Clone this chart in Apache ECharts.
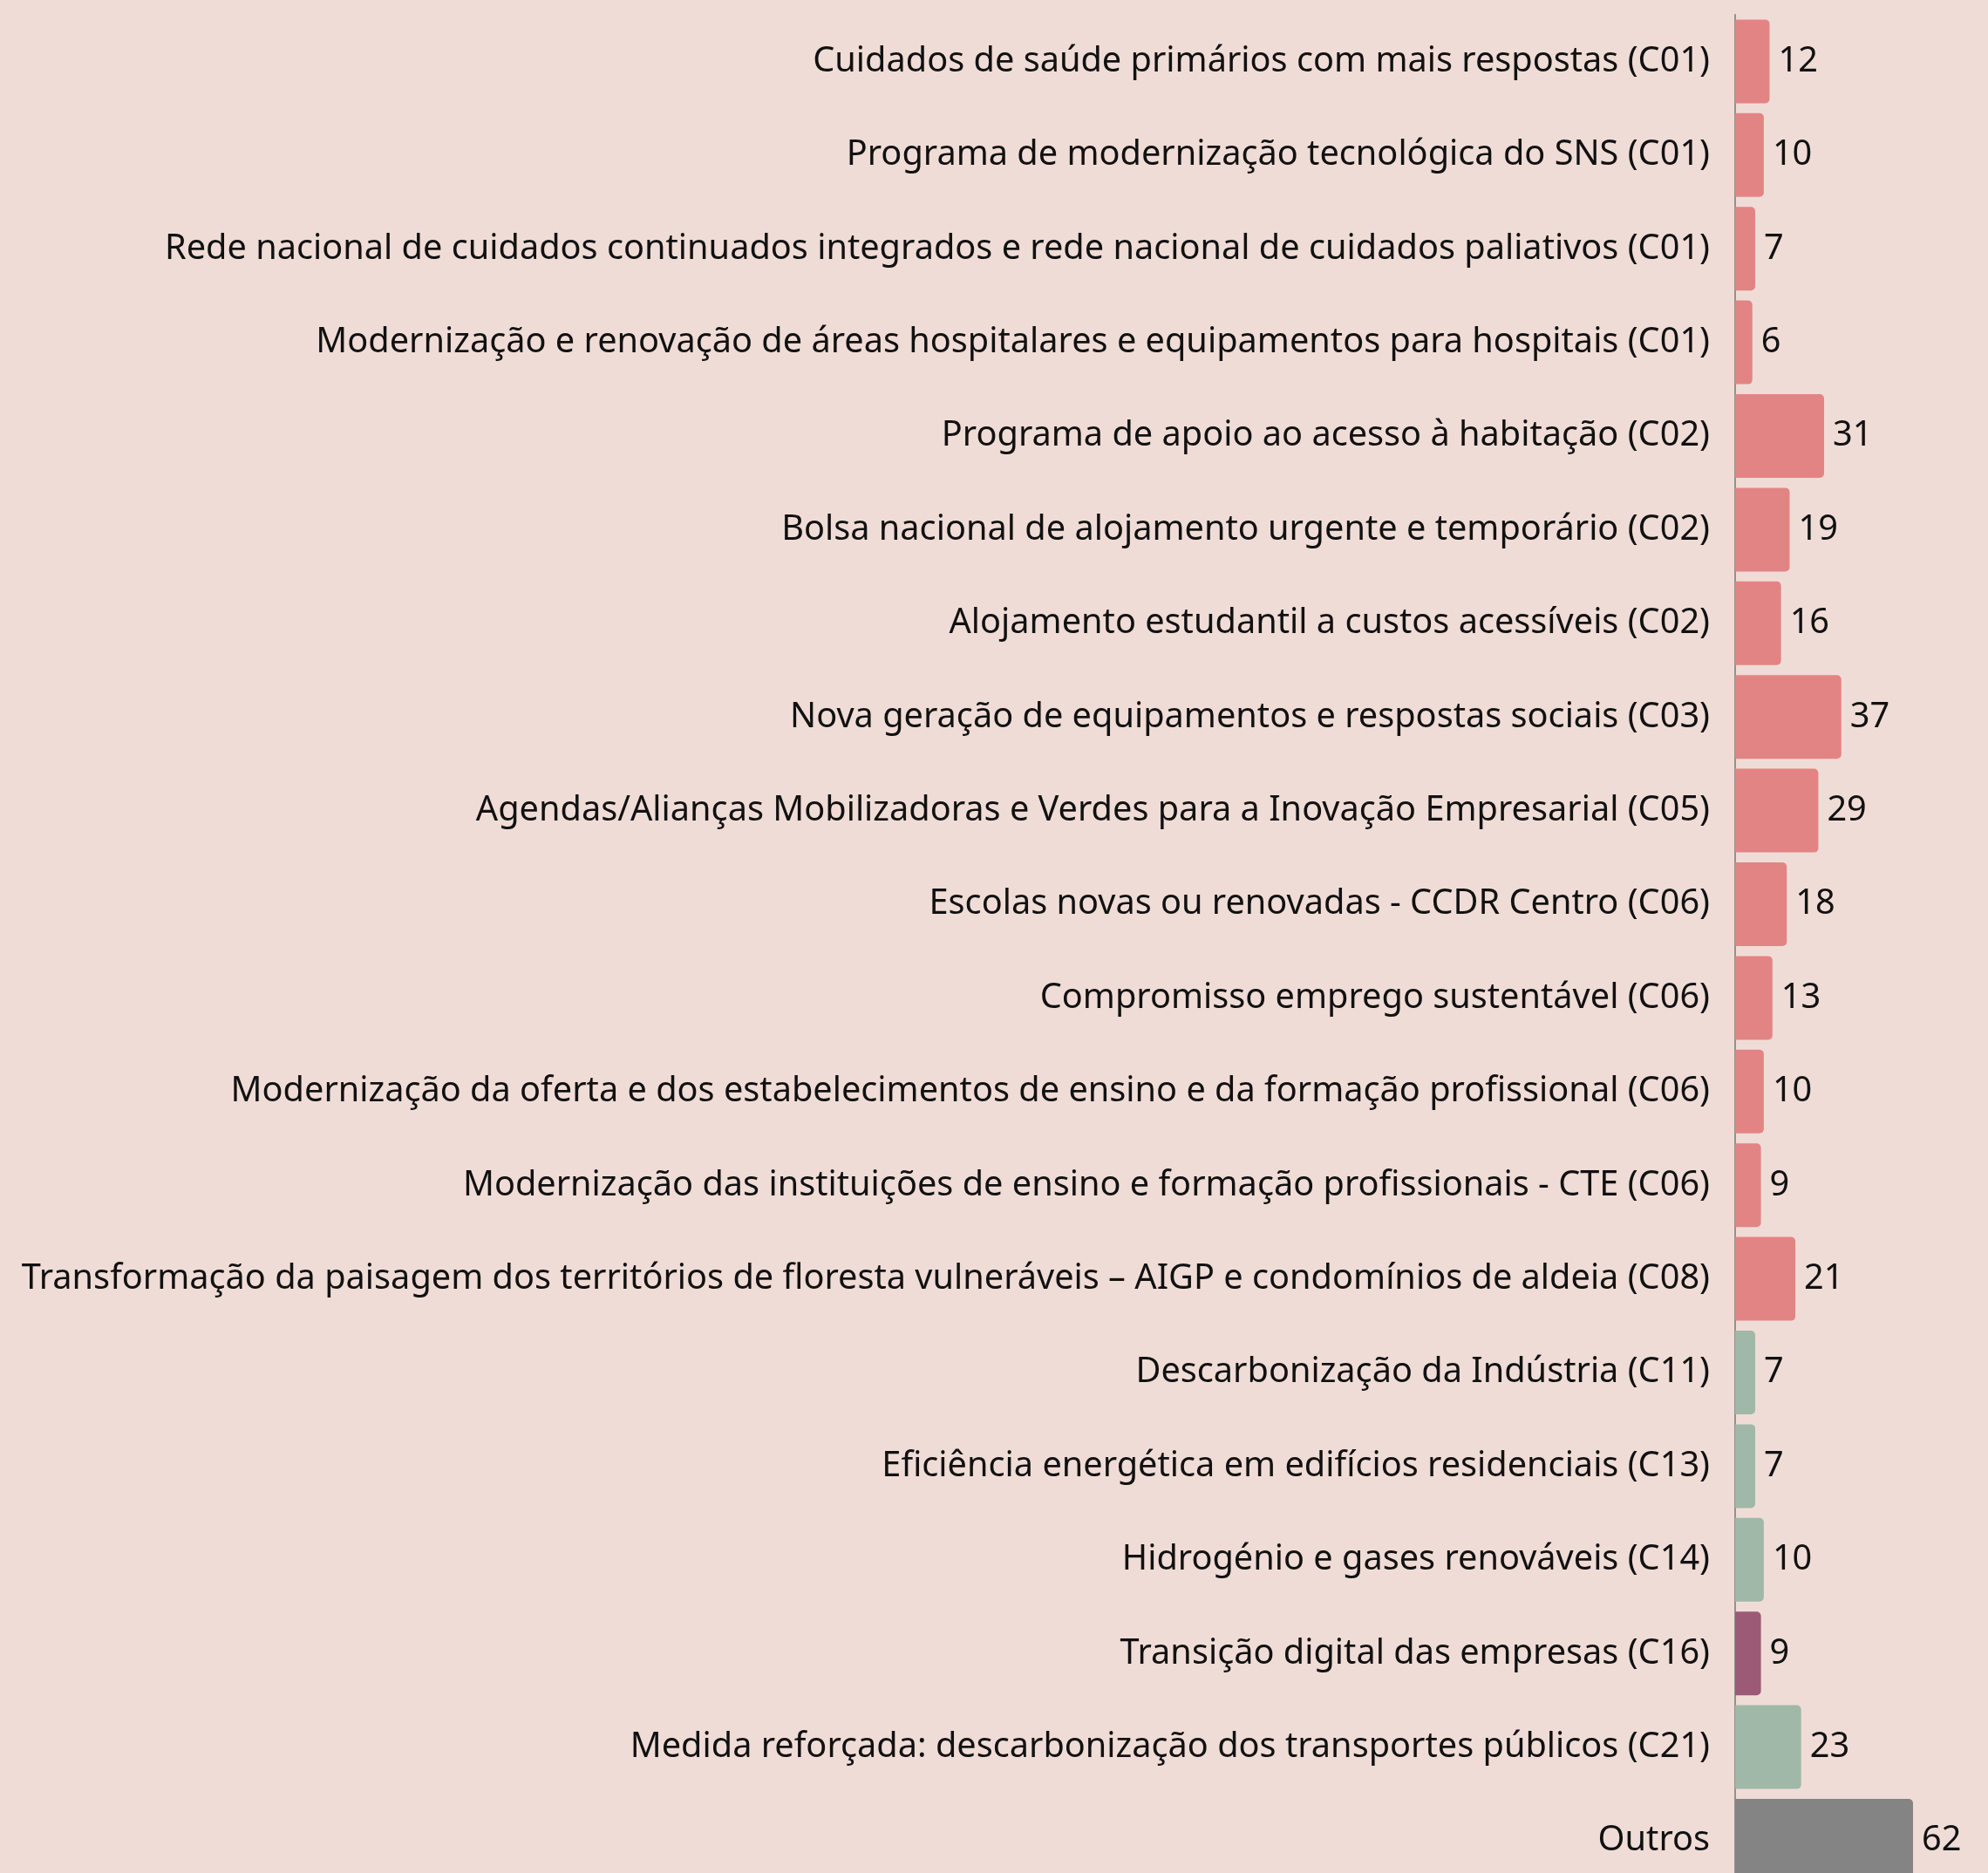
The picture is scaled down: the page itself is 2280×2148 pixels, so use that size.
<!DOCTYPE html>
<html><head><meta charset="utf-8">
<script src="https://cdn.jsdelivr.net/npm/echarts@6/dist/echarts.min.js"></script>
<style>html,body{margin:0;padding:0;background:#F0DCD6;}#c{width:2280px;height:2148px;}</style>
</head><body><div id="c"></div>
<script>
const categories = [
 "Cuidados de saúde primários com mais respostas (C01)",
 "Programa de modernização tecnológica do SNS (C01)",
 "Rede nacional de cuidados continuados integrados e rede nacional de cuidados paliativos (C01)",
 "Modernização e renovação de áreas hospitalares e equipamentos para hospitais (C01)",
 "Programa de apoio ao acesso à habitação (C02)",
 "Bolsa nacional de alojamento urgente e temporário (C02)",
 "Alojamento estudantil a custos acessíveis (C02)",
 "Nova geração de equipamentos e respostas sociais (C03)",
 "Agendas/Alianças Mobilizadoras e Verdes para a Inovação Empresarial (C05)",
 "Escolas novas ou renovadas - CCDR Centro (C06)",
 "Compromisso emprego sustentável (C06)",
 "Modernização da oferta e dos estabelecimentos de ensino e da formação profissional (C06)",
 "Modernização das instituições de ensino e formação profissionais - CTE (C06)",
 "Transformação da paisagem dos territórios de floresta vulneráveis – AIGP e condomínios de aldeia (C08)",
 "Descarbonização da Indústria (C11)",
 "Eficiência energética em edifícios residenciais (C13)",
 "Hidrogénio e gases renováveis (C14)",
 "Transição digital das empresas (C16)",
 "Medida reforçada: descarbonização dos transportes públicos (C21)",
 "Outros"
];
const values = [12,10,7,6,31,19,16,37,29,18,13,10,9,21,7,7,10,9,23,62];
const groups = ["social","social","social","social","social","social","social","social","social","social","social","social","social","social","climate","climate","climate","digital","climate","other"];
const groupColors = {social:"#E38484", climate:"#A0B8A8", digital:"#9C5A77", other:"#838483"};

const chart = echarts.init(document.getElementById('c'));
chart.setOption({
  backgroundColor: "#F0DCD6",
  animation: false,
  grid: {left: 1990, top: 16.7, width: 204, height: 2148, containLabel: false, outerBoundsMode: 'none'},
  xAxis: {type: 'value', min: 0, max: 62, show: false},
  yAxis: {
    type: 'category', data: categories, inverse: true,
    axisLine: {show: true, lineStyle: {color: '#777777', width: 1.5}},
    axisTick: {show: false},
    axisLabel: {color: '#111111', fontSize: 39.7, fontFamily: 'Noto Sans', margin: 29}
  },
  series: [{
    type: 'bar',
    barCategoryGap: '10.6%',
    data: values.map((v, i) => ({value: v, itemStyle: {color: groupColors[groups[i]]}})),
    itemStyle: {borderRadius: [0, 5, 5, 0]},
    label: {show: true, position: 'right', distance: 10, color: '#111111', fontSize: 39.7, fontFamily: 'Noto Sans'}
  }]
});
</script></body></html>
